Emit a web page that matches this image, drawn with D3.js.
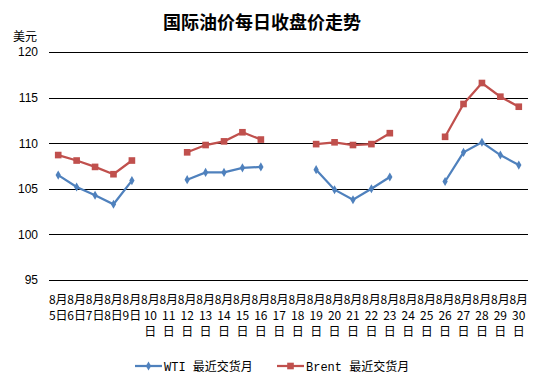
<!DOCTYPE html>
<html><head><meta charset="utf-8">
<script src="https://cdn.jsdelivr.net/npm/d3@7"></script>
<style>body{margin:0;background:#fff;}svg{display:block;}</style>
</head><body>
<script>
const days = [5,6,7,8,9,10,11,12,13,14,15,16,17,18,19,20,21,22,23,24,25,26,27,28,29,30];
const categories = days.map(d => "8月" + d + "日");
const wti = [106.5,105.2,104.3,103.3,105.9,null,null,106.0,106.8,106.8,107.3,107.4,null,null,107.1,104.9,103.8,105.0,106.3,null,null,105.8,109.0,110.1,108.7,107.6];
const brent = [108.7,108.1,107.4,106.6,108.1,null,null,109.0,109.8,110.2,111.2,110.4,null,null,109.9,110.1,109.8,109.9,111.1,null,null,110.7,114.3,116.6,115.1,114.0];
const yTicks = [95,100,105,110,115,120];
const seriesNames = ["WTI 最近交货月","Brent 最近交货月"];
const colors = ["#4F81BD","#C0504D"];

const W=544,H=384;
const svg=d3.select("body").append("svg").attr("width",W).attr("height",H);
const cjk='"Noto Sans CJK SC", sans-serif';
const x=d3.scaleBand().domain(categories).range([49,528]);
const y=d3.scaleLinear().domain([95,120]).range([280,52]);

svg.append("text").attr("x",262).attr("y",29).attr("text-anchor","middle")
  .style("font-family",cjk).style("font-weight","bold").style("font-size","18px").text("国际油价每日收盘价走势");
svg.append("text").attr("x",13).attr("y",41).style("font-family",cjk).style("font-size","12px").text("美元");

const yAxis=d3.axisLeft(y).tickValues(yTicks).tickSize(-(528-49)).tickFormat(d3.format("d"));
const ga=svg.append("g").attr("transform","translate(49,0)").call(yAxis);
ga.select(".domain").remove();
ga.selectAll(".tick line").attr("stroke","#000").attr("stroke-width",1).attr("shape-rendering","crispEdges");
ga.selectAll(".tick text").attr("x",-11).style("font-family","'Liberation Sans', Arial, sans-serif").style("font-size","12px").attr("fill","#000");

// x labels
const xl=svg.append("g");
categories.forEach((c,i)=>{
  const d=days[i];
  const cx=x(c)+x.bandwidth()/2;
  const lines = d<10 ? ["8月", d+"日"] : ["8月", String(d), "日"];
  lines.forEach((t,j)=>{
    xl.append("text").attr("x",cx).attr("y",304+j*16).attr("text-anchor","middle")
      .style("font-family",cjk).style("font-size","12px").text(t);
  });
});

const line=d3.line().defined(d=>d.v!=null).x(d=>x(d.c)+x.bandwidth()/2).y(d=>y(d.v));
[wti,brent].forEach((arr,k)=>{
  const data=arr.map((v,i)=>({c:categories[i],v}));
  svg.append("path").datum(data).attr("d",line).attr("fill","none").attr("stroke",colors[k]).attr("stroke-width",2.25);
  const pts=data.filter(d=>d.v!=null);
  const sym = k===0 ? d3.symbol().type(d3.symbolDiamond).size(24) : d3.symbol().type(d3.symbolSquare).size(44);
  svg.append("g").selectAll("path").data(pts).join("path")
    .attr("transform",d=>`translate(${x(d.c)+x.bandwidth()/2},${y(d.v)})`)
    .attr("d",sym).attr("fill",colors[k]);
});

// legend
const legX=[135,277];
seriesNames.forEach((n,k)=>{
  const g=svg.append("g").attr("transform",`translate(${legX[k]},366)`);
  g.append("line").attr("x1",0).attr("x2",27).attr("stroke",colors[k]).attr("stroke-width",2.25);
  const sym = k===0 ? d3.symbol().type(d3.symbolDiamond).size(24) : d3.symbol().type(d3.symbolSquare).size(44);
  g.append("path").attr("transform","translate(13.5,0)").attr("d",sym).attr("fill",colors[k]);
  g.append("text").attr("x",29).attr("y",4.5).style("font-family","'Liberation Mono', 'Noto Sans CJK SC', monospace").style("font-size","12px").text(n);
});
</script>
</body></html>
